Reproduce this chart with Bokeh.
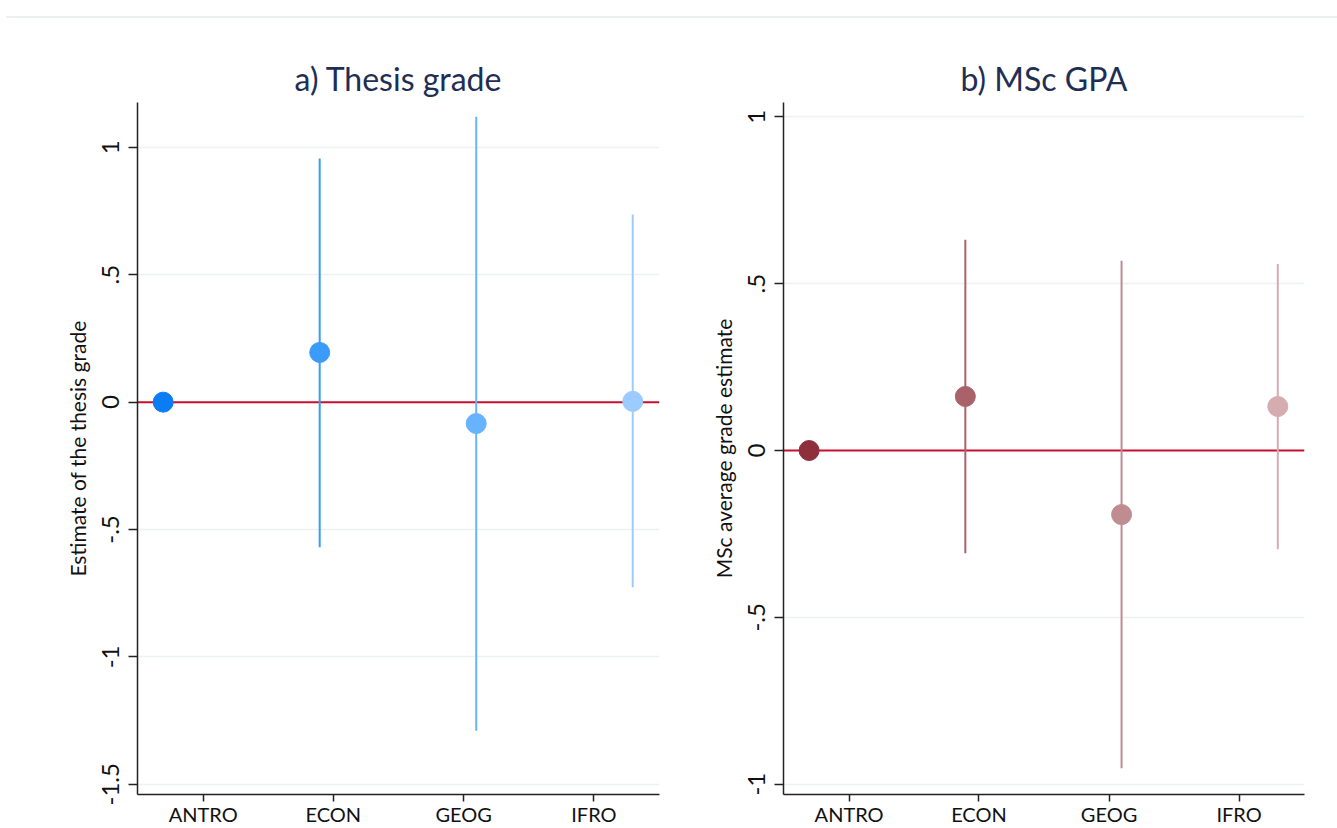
from bokeh.plotting import figure
from bokeh.models import Range1d, FixedTicker, Span, ColumnDataSource, Div
from bokeh.layouts import row, column
from bokeh.embed import file_html
from bokeh.resources import INLINE

# ---- data ----
majors = ["ANTRO", "ECON", "GEOG", "IFRO"]
x_pos = [1, 2, 3, 4]
x_tick_pos = [1.256, 2.087, 2.920, 3.752]

thesis_est = [0.0, 0.195, -0.084, 0.003]
thesis_lo = [0.0, -0.570, -1.290, -0.727]
thesis_hi = [0.0, 0.956, 1.120, 0.736]

gpa_est = [0.0, 0.162, -0.192, 0.132]
gpa_lo = [0.0, -0.308, -0.952, -0.296]
gpa_hi = [0.0, 0.632, 0.569, 0.559]

thesis_colors = ["#0A7CF4", "#3A9BFB", "#67B3FF", "#9BCBFF"]
gpa_colors = ["#8E2F3B", "#A9626A", "#BF8C91", "#D5ACAF"]

y_ticks_a = [-1.5, -1, -0.5, 0, 0.5, 1]
y_labels_a = ["-1.5", "-1", "-.5", "0", ".5", "1"]
y_ticks_b = [-1, -0.5, 0, 0.5, 1]
y_labels_b = ["-1", "-.5", "0", ".5", "1"]

FONT = "Lato"


def make_panel(title, ylabel, est, lo, hi, colors, yticks, ylabels,
               y0, y1, width, bl, br):
    p = figure(width=width, height=810, output_backend="svg",
               toolbar_location=None, title=title,
               x_range=Range1d(0.836, 4.171), y_range=Range1d(y0, y1),
               min_border_left=bl, min_border_right=br,
               min_border_top=84, min_border_bottom=0)
    p.outline_line_color = None
    p.background_fill_color = "white"
    p.border_fill_color = "white"

    p.title.text_font = FONT
    p.title.text_font_size = "32px"
    p.title.text_font_style = "normal"
    p.title.text_color = "#1F2E55"
    p.title.align = "center"
    p.title.standoff = 10

    p.xgrid.visible = False
    p.ygrid.grid_line_color = "#EAF2F3"
    p.ygrid.grid_line_width = 1.5
    p.ygrid.ticker = FixedTicker(ticks=yticks)

    p.xaxis.ticker = FixedTicker(ticks=x_tick_pos)
    p.xaxis.major_label_overrides = {t: m for t, m in zip(x_tick_pos, majors)}
    p.yaxis.ticker = FixedTicker(ticks=yticks)
    p.yaxis.major_label_overrides = {t: l for t, l in zip(yticks, ylabels)}
    p.yaxis.major_label_orientation = "vertical"
    p.yaxis.axis_label = ylabel

    for ax in (p.xaxis[0], p.yaxis[0]):
        ax.axis_line_color = "#222222"
        ax.axis_line_width = 1.5
        ax.major_tick_line_color = "#222222"
        ax.major_tick_line_width = 1.5
        ax.major_tick_in = 0
        ax.major_tick_out = 9
        ax.minor_tick_line_color = None
        ax.major_label_text_font = FONT
        ax.major_label_text_color = "#111111"
        ax.axis_label_text_font = FONT
        ax.axis_label_text_font_size = "21px"
        ax.axis_label_text_font_style = "normal"
        ax.axis_label_text_color = "#111111"
    p.yaxis.major_label_text_font_size = "24px"
    p.yaxis.major_label_standoff = 9
    p.yaxis.axis_label_standoff = 10

    p.xaxis.major_tick_out = 7
    p.xaxis.major_label_text_font_size = "20px"
    p.xaxis.major_label_standoff = 0
    p.xaxis.axis_label_standoff = 0

    zero = Span(location=0, dimension="width", line_color="#C8102E",
                line_width=2, level="underlay")
    p.add_layout(zero)

    idx = [i for i in range(len(est)) if hi[i] != lo[i]]
    seg = ColumnDataSource(dict(
        x=[x_pos[i] for i in idx], lo=[lo[i] for i in idx],
        hi=[hi[i] for i in idx], c=[colors[i] for i in idx]))
    p.segment(x0="x", y0="lo", x1="x", y1="hi", source=seg,
              line_color="c", line_width=2)

    pts = ColumnDataSource(dict(x=x_pos, y=est, c=colors))
    p.scatter(x="x", y="y", source=pts, size=20, fill_color="c",
              line_color="c", marker="circle")
    return p


pa = make_panel("a) Thesis grade", "Estimate of the thesis grade",
                thesis_est, thesis_lo, thesis_hi, thesis_colors,
                y_ticks_a, y_labels_a, -1.540, 1.176, 668, 137, 9)
pb = make_panel("b) MSc GPA", "MSc average grade estimate",
                gpa_est, gpa_lo, gpa_hi, gpa_colors,
                y_ticks_b, y_labels_b, -1.031, 1.043, 669, 115, 33)

topline = Div(text="", width=1331, height=2, margin=(16, 0, 0, 6),
              styles={"background-color": "#EDF1F2"})

layout = column(topline, row(pa, pb))

open("out.html", "w").write(file_html(layout, INLINE))
